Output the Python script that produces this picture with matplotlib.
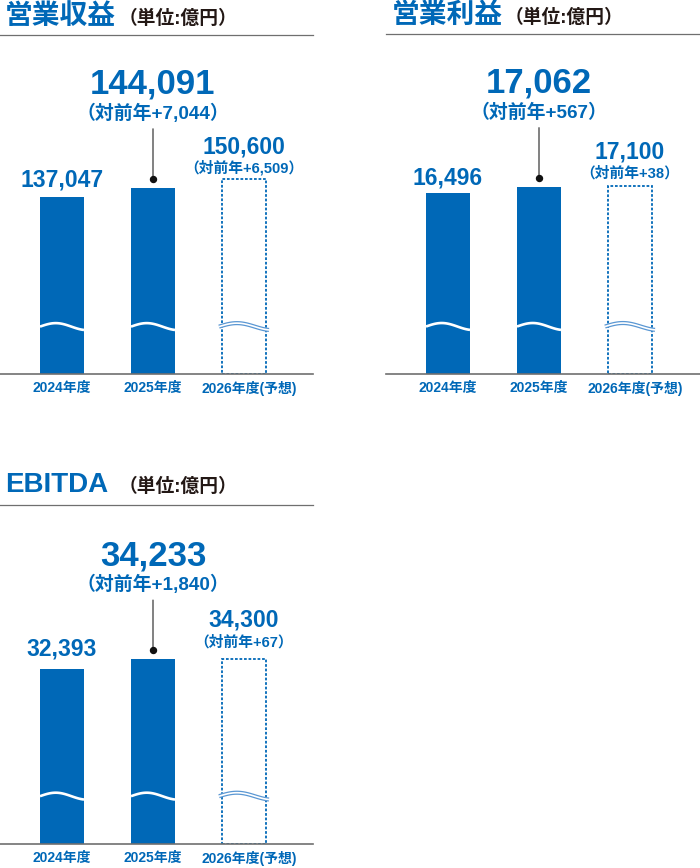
import numpy as np
import matplotlib
matplotlib.use("Agg")
import matplotlib.pyplot as plt
from matplotlib.transforms import offset_copy, ScaledTranslation

# ==========================================================
# Data (億円)
# ==========================================================

years = ["2024年度", "2025年度", "2026年度(予想)"]

titles = ["営業収益", "営業利益", "EBITDA"]
unit_label = "（単位:億円）"

revenue = [137047, 144091, 150600]
revenue_diff = [7044, 6509]

profit = [16496, 17062, 17100]
profit_diff = [567, 38]

ebitda = [32393, 34233, 34300]
ebitda_diff = [1840, 67]

# ==========================================================
# Style / layout
# ==========================================================

BLUE = "#0068b7"
WAVE_BLUE = "#5a97d3"
RULE = "#6f6f6f"
FONT = ["Liberation Sans", "Noto Sans CJK JP"]

W, H = 700, 868
PX = 0.72  # points per pixel at dpi 100

# left, top, bottom, width (pixels), y-axis top value, title x, unit x, title y
panels = [
    dict(values=revenue, diff=revenue_diff, title=titles[0],
         box=(0, 35, 374.5, 313), ytop=262000, tx=5, ux=119, ty=17),
    dict(values=profit, diff=profit_diff, title=titles[1],
         box=(386, 34.3, 374.5, 314), ytop=30900, tx=392, ux=505, ty=16),
    dict(values=ebitda, diff=ebitda_diff, title=titles[2],
         box=(0, 505, 844, 313), ytop=62750, tx=5, ux=119, ty=485),
]

# label gaps above the bar top (pixels)
left_gap = [10, 8, 14]
fc_value_gap = [26, 28, 32]
fc_diff_gap = [7, 9, 12]

fig = plt.figure(figsize=(W / 100, H / 100), dpi=100)

for k, p in enumerate(panels):
    left, top, bottom, width = p["box"]
    ax = fig.add_axes([left / W, 1 - bottom / H, width / W, (bottom - top) / H])

    spacing = 91.0
    ax.set_xlim(-62 / spacing, (width - 62) / spacing)
    ax.set_ylim(0, p["ytop"])
    bw = 44 / spacing

    vals = p["values"]
    x = np.arange(len(vals))

    # actual bars
    ax.bar(x[:2], vals[:2], width=bw, color=BLUE, zorder=1)

    # forecast bar (dotted outline)
    ax.bar(x[2], vals[2], width=bw, fill=False, edgecolor=BLUE,
           linewidth=1.3, linestyle=(0, (1.5, 1.0)), zorder=1)

    # break waves
    t = np.linspace(0, 1, 60)
    wy = 0.141 + 0.0103 * np.sin(1.4 * np.pi * t)
    trans = ax.get_xaxis_transform()
    for i in range(2):
        xs = x[i] - bw / 2 + bw * t
        ax.plot(xs, wy, color="white", lw=1.9, transform=trans,
                solid_capstyle="butt", zorder=3)
    ext = 3 / spacing
    xs = x[2] - bw / 2 - ext + (bw + 2 * ext) * t
    ax.plot(xs, wy, color=WAVE_BLUE, lw=3.0, transform=trans,
            solid_capstyle="butt", zorder=3)
    ax.plot(xs, wy, color="white", lw=1.2, transform=trans,
            solid_capstyle="butt", zorder=4)

    # spines: top rule + baseline
    for s in ["left", "right"]:
        ax.spines[s].set_visible(False)
    ax.spines["top"].set_color(RULE)
    ax.spines["top"].set_linewidth(0.9)
    ax.spines["bottom"].set_color(RULE)
    ax.spines["bottom"].set_linewidth(1.2)
    ax.spines["bottom"].set_zorder(5)
    ax.set_yticks([])
    ax.set_xticks(x)
    ax.set_xticklabels(years, family=FONT, fontsize=10, fontweight="bold",
                       color=BLUE)
    ax.tick_params(axis="x", length=0, pad=5)
    fc_lab = ax.get_xticklabels()[2]
    fc_lab.set_transform(fc_lab.get_transform()
                         + ScaledTranslation(5 / 100, 0, fig.dpi_scale_trans))
    ax.patch.set_alpha(0)

    # left bar value
    ax.annotate(f"{vals[0]:,}", xy=(x[0], vals[0]),
                xytext=(0, left_gap[k] * PX), textcoords="offset points",
                ha="center", va="baseline", family=FONT, fontsize=16.5,
                fontweight="bold", color=BLUE)

    # middle bar: leader line, dot, big value
    ax.annotate("", xy=(x[1], vals[1]), xytext=(0, 59 * PX),
                textcoords="offset points",
                arrowprops=dict(arrowstyle="-", color="#222222", lw=0.8,
                                shrinkA=0, shrinkB=9 * PX))
    dot_tr = offset_copy(ax.transData, fig=fig, x=0, y=9 * PX, units="points")
    ax.plot([x[1]], [vals[1]], "o", color="#111111", markersize=4.3,
            transform=dot_tr, zorder=6, clip_on=False)
    ax.annotate(f"{vals[1]:,}", xy=(x[1], vals[1]),
                xytext=(0, 94 * PX), textcoords="offset points",
                ha="center", va="baseline", family=FONT, fontsize=25,
                fontweight="bold", color=BLUE, annotation_clip=False)
    ax.annotate(f"（対前年+{p['diff'][0]:,}）", xy=(x[1], vals[1]),
                xytext=(0, 69 * PX), textcoords="offset points",
                ha="center", va="baseline", family=FONT, fontsize=13.6,
                fontweight="bold", color=BLUE, annotation_clip=False)

    # forecast value
    ax.annotate(f"{vals[2]:,}", xy=(x[2], vals[2]),
                xytext=(0, fc_value_gap[k] * PX), textcoords="offset points",
                ha="center", va="baseline", family=FONT, fontsize=16.5,
                fontweight="bold", color=BLUE)
    ax.annotate(f"（対前年+{p['diff'][1]:,}）", xy=(x[2], vals[2]),
                xytext=(0, fc_diff_gap[k] * PX), textcoords="offset points",
                ha="center", va="baseline", family=FONT, fontsize=10.6,
                fontweight="bold", color=BLUE)

    # titles
    fig.text(p["tx"] / W, 1 - p["ty"] / H, p["title"], family=FONT,
             fontsize=20, fontweight="bold", color=BLUE, va="center",
             ha="left")
    fig.text(p["ux"] / W, 1 - (p["ty"] + 2) / H, unit_label, family=FONT,
             fontsize=13.5, fontweight="bold", color="#231815",
             va="center", ha="left")

fig.savefig("out.png", dpi=100)
